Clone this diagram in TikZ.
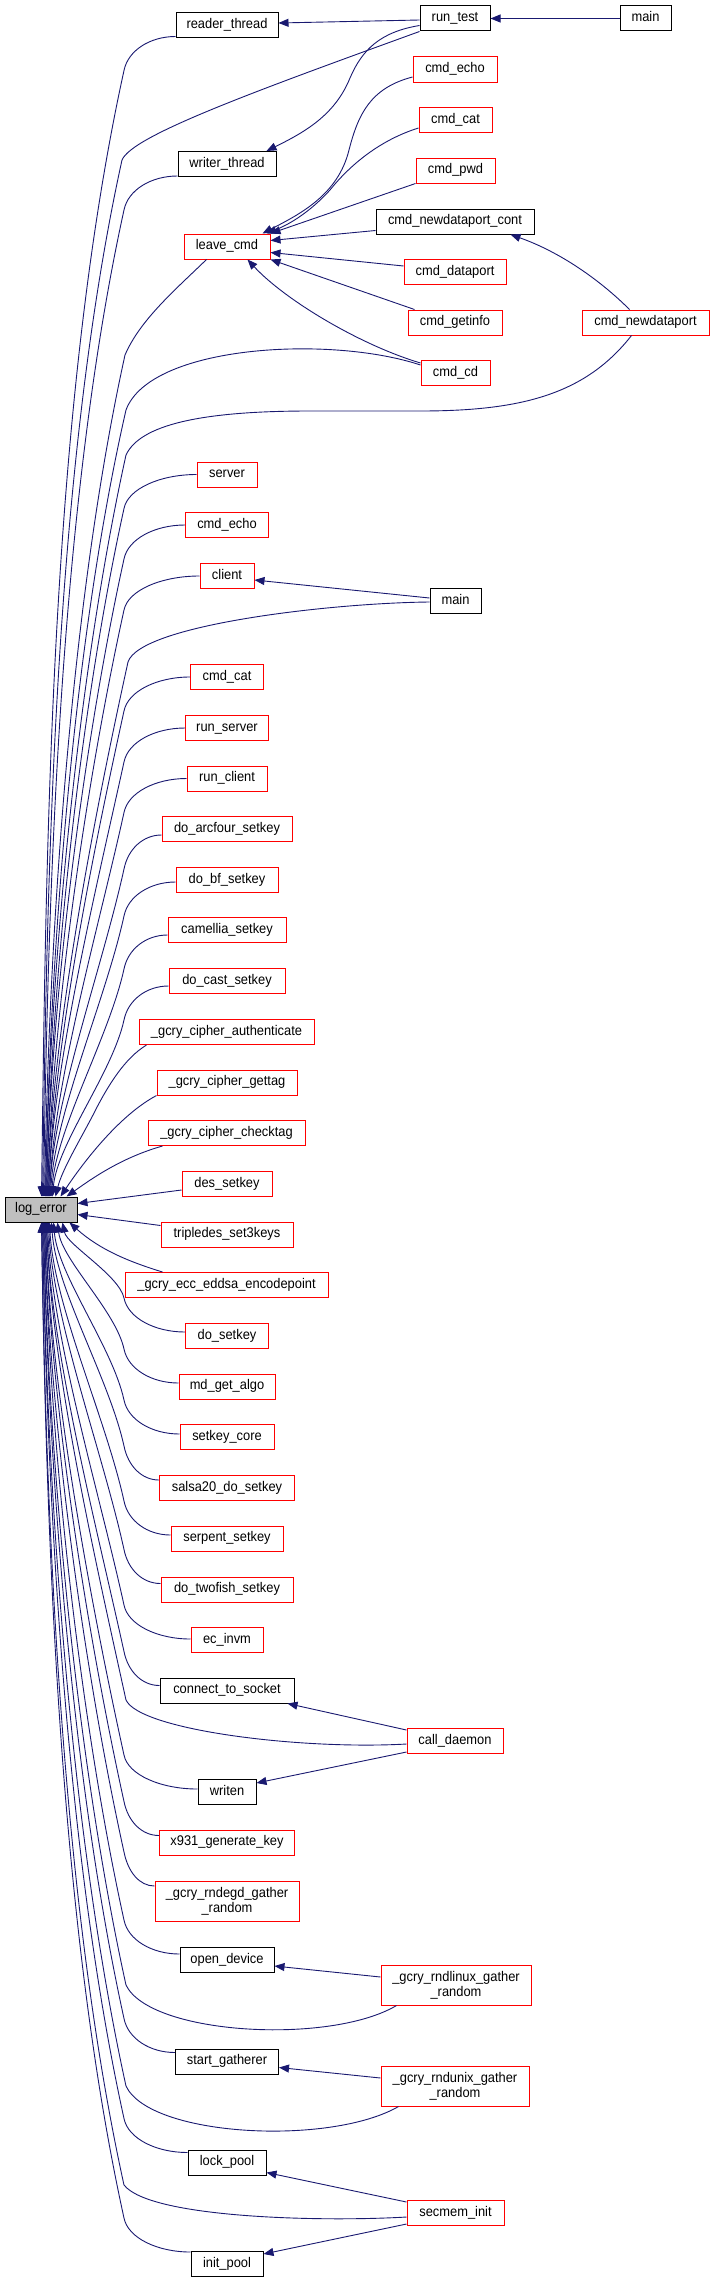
\documentclass[tikz,border=0pt]{standalone}
\usepackage{fontspec}
\setmainfont{Liberation Sans}[FakeStretch=0.92]
\usetikzlibrary{arrows.meta,calc}
\definecolor{edgeblue}{HTML}{191970}
\definecolor{boxred}{HTML}{FF0000}
\definecolor{errgray}{HTML}{BFBFBF}
\newcommand\nodefont{\fontsize{14}{15}\selectfont}
\tikzset{
  nbase/.style={draw, line width=1pt, fill=white, inner sep=0pt, font=\nodefont},
  rb/.style={nbase, draw=boxred, minimum height=25pt, text height=10.2pt, text depth=3.3pt},
  bb/.style={nbase, draw=black, minimum height=25pt, text height=10.2pt, text depth=3.3pt},
  rbtwo/.style={nbase, draw=boxred, minimum height=40pt, align=center},
  gb/.style={bb, fill=errgray},
  conn/.style={draw=edgeblue, line width=0.9pt, -{Triangle[length=10pt,width=8pt]}}
}
% upper caller -> log_error : #1 node, #2 west x, #3 centre y, #4 start offset, #5 target x
\newcommand\upE[5]{%
  \pgfmathsetmacro\edgesy{#3+#4}%
  \draw[conn] ($(#1.west)+(0,#4)$) .. controls ({0.5*(#2)+62},\edgesy) and (128,{\edgesy+14}) .. (124,{\edgesy+34})
   .. controls ({124-0.066*(1163-\edgesy)},{\edgesy+34+0.3*(1163-\edgesy)}) and ({#5+4},{1197-0.3*(1163-\edgesy)}) .. ($(logerr.north west)+({#5-5},0)$);%
}
% lower caller -> log_error
\newcommand\loE[5]{%
  \pgfmathsetmacro\edgesy{#3+#4}%
  \draw[conn] ($(#1.west)+(0,#4)$) .. controls ({0.5*(#2)+62},\edgesy) and (128,{\edgesy-14}) .. (124,{\edgesy-34})
   .. controls ({124-0.066*(\edgesy-1256)},{\edgesy-34-0.3*(\edgesy-1256)}) and ({#5+4},{1222+0.3*(\edgesy-1256)}) .. ($(logerr.south west)+({#5-5},0)$);%
}
\begin{document}
\begin{tikzpicture}[x=1pt,y=-1pt]
\useasboundingbox (0,0) rectangle (711,2283);
% nodes
\node[bb, minimum width=70pt] (rt) at (455,18.5) {run\_test};
\node[bb, minimum width=51pt] (mainA) at (645.5,18.5) {main};
\node[bb, minimum width=102pt] (reader) at (227,25.5) {reader\_thread};
\node[rb, minimum width=84pt] (echoR) at (455,69.5) {cmd\_echo};
\node[rb, minimum width=73pt] (catR) at (455.5,120) {cmd\_cat};
\node[rb, minimum width=79pt] (pwd) at (455.5,170.5) {cmd\_pwd};
\node[bb, minimum width=98pt] (writer) at (227,164) {writer\_thread};
\node[bb, minimum width=158pt] (ndpc) at (455,221.5) {cmd\_newdataport\_cont};
\node[rb, minimum width=86pt] (leave) at (227,246.5) {leave\_cmd};
\node[rb, minimum width=102pt] (dataport) at (455,272) {cmd\_dataport};
\node[rb, minimum width=94pt] (getinfo) at (455,322.5) {cmd\_getinfo};
\node[rb, minimum width=127pt] (ndp) at (645.5,322.5) {cmd\_newdataport};
\node[rb, minimum width=69pt] (cd) at (455.5,373) {cmd\_cd};
\node[rb, minimum width=60pt] (server) at (227,474.5) {server};
\node[rb, minimum width=83pt] (echoL) at (227,525) {cmd\_echo};
\node[rb, minimum width=54pt] (client) at (227,576) {client};
\node[bb, minimum width=51pt] (mainB) at (455.5,601) {main};
\node[rb, minimum width=73pt] (catL) at (227,677) {cmd\_cat};
\node[rb, minimum width=83pt] (runserver) at (227,728) {run\_server};
\node[rb, minimum width=80pt] (runclient) at (227,778.5) {run\_client};
\node[rb, minimum width=130pt] (arcfour) at (227,829) {do\_arcfour\_setkey};
\node[rb, minimum width=102pt] (bf) at (227,880) {do\_bf\_setkey};
\node[rb, minimum width=118pt] (camellia) at (227,930) {camellia\_setkey};
\node[rb, minimum width=116pt] (cast) at (227,981) {do\_cast\_setkey};
\node[rb, minimum width=175pt] (auth) at (226.5,1032) {\_gcry\_cipher\_authenticate};
\node[rb, minimum width=140pt] (gettag) at (227,1082.5) {\_gcry\_cipher\_gettag};
\node[rb, minimum width=157pt] (checktag) at (226.5,1133) {\_gcry\_cipher\_checktag};
\node[rb, minimum width=90pt] (des) at (227,1184) {des\_setkey};
\node[gb, minimum width=72pt] (logerr) at (41,1209.5) {log\_error};
\node[rb, minimum width=132pt] (tdes) at (227,1234.5) {tripledes\_set3keys};
\node[rb, minimum width=203pt] (ecc) at (226.5,1285) {\_gcry\_ecc\_eddsa\_encodepoint};
\node[rb, minimum width=83pt] (dosetkey) at (227,1336) {do\_setkey};
\node[rb, minimum width=96pt] (mdget) at (227,1386.5) {md\_get\_algo};
\node[rb, minimum width=94pt] (setkeycore) at (227,1437) {setkey\_core};
\node[rb, minimum width=135pt] (salsa) at (227,1488) {salsa20\_do\_setkey};
\node[rb, minimum width=112pt] (serpent) at (227,1538.5) {serpent\_setkey};
\node[rb, minimum width=132pt] (twofish) at (227,1589.5) {do\_twofish\_setkey};
\node[rb, minimum width=72pt] (ecinvm) at (227,1640) {ec\_invm};
\node[bb, minimum width=134pt] (connect) at (227,1690.5) {connect\_to\_socket};
\node[rb, minimum width=96pt] (calld) at (455,1741) {call\_daemon};
\node[bb, minimum width=58pt] (writen) at (227,1792) {writen};
\node[rb, minimum width=135pt] (xnine) at (227,1842.5) {x931\_generate\_key};
\node[rbtwo, minimum width=144pt] (rndegd) at (227,1901) {\_gcry\_rndegd\_gather\\\_random};
\node[bb, minimum width=94pt] (opendev) at (227,1960) {open\_device};
\node[rbtwo, minimum width=150pt] (rndlinux) at (456,1985) {\_gcry\_rndlinux\_gather\\\_random};
\node[bb, minimum width=103pt] (startg) at (227,2061.5) {start\_gatherer};
\node[rbtwo, minimum width=148pt] (rndunix) at (455,2086) {\_gcry\_rndunix\_gather\\\_random};
\node[bb, minimum width=78pt] (lockpool) at (227,2162.5) {lock\_pool};
\node[rb, minimum width=97pt] (secmem) at (455.5,2213) {secmem\_init};
\node[bb, minimum width=72pt] (initpool) at (227,2264) {init\_pool};

% top group
\draw[conn] (mainA.west) -- (rt.east);
\draw[conn] ($(rt.west)+(0,1.5)$) -- ($(reader.east)+(0,-2.5)$);
\draw[conn] ($(rt.west)+(0,7)$) .. controls (380,32) and (362,50) .. (350,78) .. controls (335,115) and (305,132) .. ($(writer.north east)+(-10,0)$);
\draw[conn] (rt.south west) .. controls (250,93) and (132,136) .. (122,160) .. controls (53.6,471.1) and (47,885.9) .. ($(logerr.north west)+(38,0)$);

% callers of leave_cmd
\draw[conn] ($(echoR.west)+(0,7.5)$) .. controls (370,88) and (358,115) .. (349,150) .. controls (338,195) and (300,214) .. ($(leave.north east)+(-8,0)$);
\draw[conn] ($(catR.west)+(0,8)$) .. controls (380,140) and (350,165) .. (330,190) .. controls (310,212) and (290,224) .. ($(leave.north east)+(-4,0)$);
\draw[conn] (pwd.south west) -- (leave.north east);
\draw[conn] ($(ndpc.south west)+(0,-4)$) -- ($(leave.east)+(0,-6)$);
\draw[conn] ($(dataport.west)+(0,-6)$) -- ($(leave.east)+(0,6)$);
\draw[conn] ($(getinfo.north west)+(7,0)$) -- (leave.south east);
\draw[conn] ($(cd.west)+(0,-10)$) .. controls (360,345) and (285,300) .. ($(leave.south east)+(-23,0)$);

% cmd_newdataport
\draw[conn] ($(ndp.north)+(-16,0)$) .. controls (600,280) and (560,252) .. ($(ndpc.south east)+(-24,0)$);
\draw[conn] ($(ndp.south)+(-14,0)$) .. controls (585,395) and (520,411) .. (420,411) -- (310,411) .. controls (200,411) and (140,425) .. (126,455) .. controls (77,677.6) and (50,974.4) .. ($(logerr.north west)+(41,0)$);

% cmd_cd and leave_cmd to log_error
\draw[conn] ($(cd.west)+(0,-8)$) .. controls (330,335) and (150,345) .. (126,410) .. controls (72.1,646.1) and (50,960.9) .. ($(logerr.north west)+(41,0)$);
\draw[conn] ($(leave.south west)+(23,0)$) .. controls (175,290) and (140,320) .. (125,355) .. controls (69.4,607.6) and (49,944.4) .. ($(logerr.north west)+(40,0)$);

% main (middle)
\draw[conn] ($(mainB.west)+(0,-3)$) -- ($(client.east)+(0,4)$);
\draw[conn] ($(mainB.west)+(0,1)$) .. controls (330,603) and (140,625) .. (128,662) .. controls (92.7,822.5) and (52,1036.5) .. ($(logerr.north west)+(43,0)$);

% upper callers
\upE{reader}{176}{25.5}{11}{42}
\upE{writer}{178}{164}{12}{44}
\upE{server}{197}{474.5}{0}{47}
\upE{echoL}{185.5}{525}{0}{47}
\upE{client}{200}{576}{0}{48}
\upE{catL}{190.5}{677}{0}{49}
\upE{runserver}{185.5}{728}{0}{49}
\upE{runclient}{187}{778.5}{0}{50}
\upE{arcfour}{162}{829}{6}{50}
\upE{bf}{176}{880}{2}{51}
\upE{camellia}{168}{930}{5}{52}
\upE{cast}{169}{981}{5}{53}

% near callers
\draw[conn] ($(auth.south west)+(8,0)$) .. controls (125,1058) and (108,1085) .. (93,1115) .. controls (80,1140) and (62,1170) .. ($(logerr.north west)+(51,0)$);
\draw[conn] (gettag.south west) .. controls (120,1115) and (85,1160) .. ($(logerr.north west)+(56,0)$);
\draw[conn] ($(checktag.south west)+(15,0)$) .. controls (120,1158) and (90,1180) .. ($(logerr.north west)+(62,0)$);
\draw[conn] ($(des.west)+(0,6)$) -- ($(logerr.east)+(0,-6)$);
\draw[conn] ($(tdes.west)+(0,-9)$) -- ($(logerr.east)+(0,5)$);
\draw[conn] ($(ecc.north west)+(38,0)$) .. controls (130,1262) and (100,1250) .. ($(logerr.south west)+(65,0)$);

% lower callers
\loE{dosetkey}{185.5}{1336}{-4}{63}
\loE{mdget}{179}{1386.5}{-3.5}{58}
\loE{setkeycore}{180}{1437}{-3}{54}
\loE{salsa}{159.5}{1488}{-8}{52}
\loE{serpent}{171}{1538.5}{-3.5}{50}
\loE{twofish}{161}{1589.5}{-6}{49}
\loE{ecinvm}{191}{1640}{-1}{48}
\loE{connect}{160}{1690.5}{-5}{47}
\loE{writen}{198}{1792}{-3}{46}
\loE{xnine}{159.5}{1842.5}{-7}{46}
\loE{rndegd}{155}{1901}{-15}{45}
\loE{opendev}{180}{1960}{-6}{45}
\loE{startg}{175.5}{2061.5}{-9}{44}
\loE{lockpool}{188}{2162.5}{-10}{43}
\loE{initpool}{191}{2264}{-12}{42}

% lower right-hand callers
\draw[conn] ($(calld.north west)+(0,2)$) -- ($(connect.south east)+(-7,0)$);
\draw[conn] ($(calld.south west)+(0,-2)$) -- ($(writen.north east)+(0,4)$);
\draw[conn] ($(calld.west)+(0,3)$) .. controls (300,1750) and (140,1730) .. (126,1700) .. controls (94.5,1556.6) and (51,1365.4) .. ($(logerr.south west)+(42,0)$);
\draw[conn] ($(rndlinux.west)+(0,-8)$) -- ($(opendev.east)+(0,6)$);
\draw[conn] ($(rndlinux.south west)+(16,0)$) .. controls (330,2045) and (150,2035) .. (126,1985) .. controls (75.6,1756.1) and (48,1450.9) .. ($(logerr.south west)+(39,0)$);
\draw[conn] ($(rndunix.west)+(0,-8)$) -- ($(startg.east)+(0,6)$);
\draw[conn] ($(rndunix.south west)+(18,0)$) .. controls (330,2146) and (150,2137) .. (126,2086) .. controls (69,1826.8) and (47,1481.2) .. ($(logerr.south west)+(38,0)$);
\draw[conn] ($(secmem.north west)+(0,2)$) -- ($(lockpool.south east)+(0,-3)$);
\draw[conn] ($(secmem.south west)+(0,-2)$) -- ($(initpool.north east)+(0,3)$);
\draw[conn] ($(secmem.west)+(0,4)$) .. controls (320,2222) and (150,2218) .. (124,2185) .. controls (60.4,1896.1) and (46,1510.9) .. ($(logerr.south west)+(37,0)$);
\end{tikzpicture}
\end{document}
